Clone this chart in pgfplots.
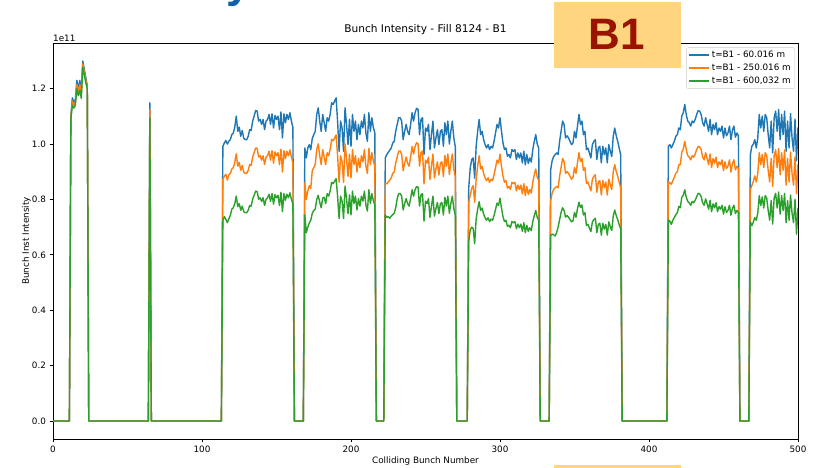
\documentclass[border=0pt]{standalone}
\usepackage{fontspec}
\setmainfont{DejaVu Sans}
\newfontfamily\headfont{Liberation Sans}
\usepackage{pgfplots}
\usepackage{pgfplotstable}
\pgfplotsset{compat=1.18}

\definecolor{tabblue}{HTML}{1F77B4}
\definecolor{taborange}{HTML}{FF7F0E}
\definecolor{tabgreen}{HTML}{2CA02C}
\definecolor{boxfill}{HTML}{FFD580}
\definecolor{boxtext}{HTML}{9A1200}
\definecolor{slideblue}{HTML}{1060AA}

% bunch number, intensity [1e11] at 60.016 m, 250.016 m and 600,032 m
\pgfplotstableread{
n a b c
0 0 0 0
11 0 0 0
12 1.100 1.095 1.090
13 1.167 1.155 1.140
14 1.150 1.140 1.130
15 1.160 1.150 1.140
16 1.230 1.215 1.200
17 1.200 1.190 1.175
18 1.230 1.215 1.195
19 1.195 1.185 1.165
20 1.300 1.290 1.278
21 1.270 1.262 1.250
22 1.240 1.232 1.222
23 1.210 1.205 1.198
24 0 0 0
64 0 0 0
65 1.149 1.125 1.095
66 0 0 0
113 0 0 0
114 0.992 0.873 0.726
115 1.004 0.884 0.738
116 1.013 0.891 0.728
117 1.000 0.870 0.716
118 1.010 0.889 0.730
119 1.016 0.894 0.742
120 1.034 0.910 0.765
121 1.040 0.915 0.770
122 1.061 0.934 0.785
123 1.101 0.965 0.812
124 1.046 0.920 0.774
125 1.061 0.934 0.785
126 1.028 0.905 0.761
127 1.049 0.923 0.776
128 1.022 0.899 0.756
129 1.016 0.894 0.752
130 1.016 0.894 0.752
131 1.028 0.905 0.761
132 1.052 0.926 0.778
133 1.049 0.923 0.776
134 1.083 0.953 0.801
135 1.101 0.969 0.815
136 1.121 0.986 0.830
137 1.119 0.985 0.828
138 1.083 0.953 0.801
139 1.089 0.958 0.806
140 1.071 0.942 0.793
141 1.089 0.958 0.806
142 1.052 0.926 0.778
143 1.083 0.953 0.801
144 1.089 0.958 0.806
145 1.107 0.974 0.819
146 1.071 0.942 0.793
147 1.109 0.976 0.821
148 1.058 0.931 0.783
149 1.104 0.972 0.817
150 1.089 0.958 0.806
151 1.101 0.969 0.815
152 1.052 0.926 0.778
153 1.116 0.982 0.826
154 1.022 0.899 0.756
155 1.109 0.976 0.821
156 1.077 0.948 0.797
157 1.107 0.974 0.819
158 1.089 0.958 0.806
159 1.113 0.979 0.824
160 1.083 0.953 0.801
161 1.060 0.933 0.784
162 0 0 0
168 0 0 0
169 0.986 0.860 0.745
170 0.950 0.800 0.680
171 0.986 0.830 0.700
172 0.998 0.850 0.715
173 0.980 0.840 0.725
174 1.020 0.903 0.750
175 1.034 0.915 0.760
176 1.046 0.926 0.765
177 1.107 0.980 0.800
178 1.131 1.001 0.815
179 1.083 0.958 0.790
180 1.046 0.926 0.770
181 1.107 0.980 0.805
182 1.077 0.953 0.808
183 1.046 0.926 0.785
184 1.095 0.969 0.821
185 1.083 0.958 0.812
186 1.107 0.980 0.830
187 1.149 1.017 0.862
188 1.143 1.012 0.857
189 1.155 1.022 0.866
190 1.167 1.033 0.875
191 1.083 0.958 0.812
192 0.974 0.862 0.731
193 1.083 0.958 0.812
194 1.058 0.936 0.794
195 0.974 0.862 0.731
196 1.131 1.001 0.848
197 1.071 0.948 0.803
198 0.998 0.883 0.749
199 1.089 0.964 0.817
200 0.992 0.878 0.744
201 1.107 0.980 0.830
202 1.046 0.926 0.785
203 1.083 0.958 0.812
204 1.016 0.899 0.762
205 1.071 0.948 0.803
206 1.034 0.915 0.776
207 1.083 0.958 0.812
208 1.058 0.936 0.794
209 1.107 0.980 0.830
210 1.040 0.920 0.780
211 1.010 0.894 0.758
212 1.113 0.985 0.835
213 1.046 0.926 0.785
214 1.095 0.969 0.821
215 1.060 0.938 0.795
216 1.040 0.920 0.780
217 0 0 0
222 0 0 0
223 0.950 0.859 0.744
224 0.962 0.856 0.735
225 0.970 0.863 0.738
226 0.978 0.870 0.732
227 0.986 0.878 0.740
228 1.004 0.894 0.745
229 1.010 0.899 0.750
230 1.046 0.931 0.770
231 1.071 0.953 0.803
232 1.095 0.975 0.821
233 1.095 0.975 0.821
234 1.083 0.964 0.812
235 1.016 0.904 0.762
236 1.046 0.931 0.785
237 1.071 0.953 0.803
238 1.046 0.931 0.785
239 1.034 0.920 0.776
240 1.071 0.953 0.803
241 1.113 0.991 0.835
242 1.083 0.964 0.812
243 1.113 0.991 0.835
244 1.129 1.005 0.847
245 1.125 1.001 0.844
246 1.034 0.920 0.776
247 1.089 0.969 0.817
248 1.095 0.975 0.821
249 0.962 0.856 0.722
250 1.058 0.942 0.794
251 1.046 0.931 0.785
252 1.071 0.953 0.803
253 0.980 0.872 0.735
254 1.034 0.920 0.776
255 1.083 0.964 0.812
256 0.986 0.878 0.740
257 1.022 0.910 0.767
258 1.052 0.936 0.789
259 0.998 0.888 0.749
260 1.046 0.931 0.785
261 1.052 0.936 0.789
262 0.992 0.883 0.744
263 1.077 0.959 0.808
264 1.034 0.920 0.776
265 1.083 0.964 0.812
266 1.000 0.890 0.750
267 1.046 0.931 0.785
268 1.083 0.964 0.812
269 1.022 0.910 0.767
270 0.990 0.881 0.743
271 0 0 0
278 0 0 0
279 0.840 0.790 0.647
280 0.913 0.815 0.690
281 0.944 0.840 0.700
282 0.950 0.850 0.695
283 0.877 0.790 0.640
284 0.992 0.873 0.730
285 1.046 0.920 0.765
286 1.089 0.958 0.792
287 1.034 0.910 0.760
288 1.046 0.920 0.769
289 1.016 0.894 0.747
290 0.998 0.878 0.734
291 0.986 0.868 0.725
292 0.998 0.878 0.734
293 0.980 0.862 0.720
294 0.992 0.873 0.729
295 0.986 0.868 0.725
296 1.010 0.889 0.742
297 1.040 0.915 0.764
298 1.071 0.942 0.787
299 1.058 0.931 0.778
300 1.095 0.964 0.805
301 1.046 0.920 0.769
302 1.004 0.884 0.738
303 0.980 0.862 0.720
304 0.986 0.868 0.725
305 0.956 0.841 0.703
306 0.962 0.847 0.707
307 0.950 0.836 0.698
308 0.980 0.862 0.720
309 0.974 0.857 0.716
310 0.980 0.862 0.720
311 0.944 0.831 0.694
312 0.968 0.852 0.711
313 0.950 0.836 0.698
314 0.968 0.852 0.711
315 0.932 0.820 0.685
316 0.974 0.857 0.716
317 0.925 0.814 0.680
318 0.962 0.847 0.707
319 0.930 0.818 0.684
320 0.950 0.836 0.698
321 0.935 0.823 0.687
322 0.980 0.862 0.720
323 1.010 0.889 0.742
324 1.034 0.910 0.760
325 1.000 0.880 0.735
326 0.986 0.868 0.725
327 0 0 0
333 0 0 0
334 0.907 0.794 0.670
335 0.940 0.823 0.675
336 0.955 0.836 0.672
337 0.962 0.842 0.668
338 0.968 0.847 0.680
339 0.962 0.842 0.700
340 1.010 0.884 0.727
341 1.046 0.915 0.753
342 1.083 0.948 0.770
343 1.071 0.937 0.760
344 1.022 0.894 0.736
345 1.030 0.901 0.742
346 1.022 0.894 0.736
347 1.010 0.884 0.727
348 0.998 0.873 0.719
349 1.004 0.879 0.723
350 1.046 0.915 0.753
351 1.022 0.894 0.736
352 1.065 0.932 0.767
353 1.107 0.969 0.790
354 1.071 0.937 0.771
355 1.083 0.948 0.780
356 1.034 0.905 0.744
357 1.046 0.915 0.753
358 0.980 0.858 0.706
359 0.986 0.863 0.710
360 0.968 0.847 0.697
361 0.950 0.831 0.684
362 0.998 0.873 0.719
363 1.010 0.884 0.727
364 1.016 0.889 0.732
365 0.944 0.826 0.680
366 0.986 0.863 0.710
367 0.992 0.868 0.714
368 0.932 0.816 0.671
369 0.992 0.868 0.714
370 0.962 0.842 0.693
371 0.986 0.863 0.710
372 0.932 0.816 0.671
373 0.998 0.873 0.719
374 0.975 0.853 0.702
375 0.955 0.836 0.688
376 1.028 0.900 0.740
377 1.058 0.926 0.762
378 1.030 0.901 0.742
379 1.010 0.884 0.727
380 0.985 0.862 0.709
381 0.962 0.842 0.693
382 0 0 0
412 0 0 0
413 0.992 0.865 0.726
414 0.998 0.860 0.722
415 0.986 0.855 0.710
416 0.998 0.868 0.725
417 1.010 0.880 0.735
418 1.028 0.895 0.745
419 1.034 0.900 0.752
420 1.058 0.925 0.775
421 1.052 0.925 0.770
422 1.101 0.970 0.808
423 1.113 0.982 0.815
424 1.143 1.010 0.835
425 1.107 0.980 0.808
426 1.083 0.958 0.793
427 1.077 0.953 0.788
428 1.065 0.943 0.779
429 1.083 0.958 0.793
430 1.077 0.953 0.788
431 1.089 0.964 0.797
432 1.107 0.980 0.810
433 1.121 0.992 0.822
434 1.119 0.990 0.820
435 1.107 0.980 0.810
436 1.077 0.953 0.788
437 1.065 0.943 0.779
438 1.095 0.969 0.802
439 1.071 0.948 0.784
440 1.046 0.926 0.765
441 1.089 0.964 0.797
442 1.034 0.915 0.756
443 1.071 0.948 0.784
444 1.052 0.931 0.770
445 1.077 0.953 0.788
446 1.034 0.915 0.756
447 1.058 0.936 0.774
448 1.046 0.926 0.765
449 1.065 0.943 0.779
450 1.022 0.904 0.747
451 1.058 0.936 0.774
452 1.030 0.912 0.753
453 1.040 0.920 0.760
454 1.065 0.943 0.779
455 1.016 0.899 0.743
456 1.050 0.929 0.768
457 1.065 0.943 0.779
458 1.025 0.907 0.749
459 1.040 0.920 0.760
460 1.030 0.912 0.753
461 0 0 0
467 0 0 0
468 0.960 0.835 0.720
469 0.992 0.850 0.705
470 1.000 0.865 0.718
471 1.016 0.885 0.735
472 0.986 0.863 0.725
473 1.022 0.894 0.751
474 1.107 0.969 0.814
475 1.058 0.926 0.778
476 1.101 0.963 0.809
477 1.046 0.915 0.769
478 1.107 0.969 0.814
479 1.095 0.958 0.805
480 1.034 0.905 0.760
481 0.986 0.863 0.725
482 1.083 0.948 0.796
483 0.968 0.847 0.711
484 1.095 0.958 0.805
485 1.119 0.979 0.822
486 1.046 0.915 0.769
487 1.125 0.984 0.827
488 1.016 0.889 0.747
489 1.107 0.969 0.814
490 1.034 0.905 0.760
491 1.119 0.979 0.822
492 0.974 0.852 0.716
493 1.083 0.948 0.796
494 0.986 0.863 0.725
495 1.110 0.971 0.816
496 1.022 0.894 0.751
497 0.974 0.852 0.716
498 1.090 0.954 0.801
499 0.940 0.820 0.675
500 1.060 0.928 0.770
}\intensity

\begin{document}
\begin{tikzpicture}[x=1pt,y=1pt]
  % page frame
  \path[fill=white, use as bounding box] (0,0) rectangle (814,468);

  % descender of the slide heading above the frame
  \begin{scope}
    \clip (0,0) rectangle (814,468);
    \node[anchor=base, inner sep=0pt, text=slideblue,
          font=\headfont\bfseries\fontsize{44}{44}\selectfont] at (239,470.5) {y};
  \end{scope}

  \begin{axis}[
    at={(53pt,29pt)}, anchor=south west,
    width=745pt, height=396pt, scale only axis,
    xmin=0, xmax=500, ymin=-0.065, ymax=1.365,
    xtick={0,100,200,300,400,500},
    ytick={0,0.2,0.4,0.6,0.8,1.0,1.2},
    scaled y ticks=false,
    tick pos=left, tick align=outside,
    major tick length=3.5pt,
    tick style={black, line width=0.8pt},
    axis line style={black, line width=0.8pt},
    /pgf/number format/assume math mode=true,
    ticklabel style={font=\fontsize{8.8}{10}\selectfont},
    yticklabel style={/pgf/number format/fixed,
                      /pgf/number format/fixed zerofill,
                      /pgf/number format/precision=1},
    title={Bunch Intensity - Fill 8124 - B1},
    title style={at={(axis description cs:0.5,1)}, anchor=base,
                 yshift=4.5pt, inner sep=0pt,
                 font=\fontsize{10.6}{12}\selectfont},
    xlabel={Colliding Bunch Number},
    xlabel style={at={(axis description cs:0.5,0)}, anchor=base,
                  yshift=-25pt, inner sep=0pt,
                  font=\fontsize{8.8}{10}\selectfont},
    ylabel={Bunch Inst Intensity},
    ylabel style={at={(axis description cs:-0.0325,0.5)}, anchor=base,
                  inner sep=0pt, font=\fontsize{8.8}{10}\selectfont},
    legend cell align=left,
    legend style={at={(0.996,0.989)}, anchor=north east,
                  draw=black!20, fill=white, fill opacity=0.8,
                  text opacity=1, rounded corners=2pt,
                  font=\fontsize{8.8}{10}\selectfont,
                  inner xsep=2pt, inner ysep=1.5pt, row sep=1pt},
    legend image code/.code={\draw[#1] (0pt,0pt) -- (20pt,0pt);},
    every axis plot/.append style={line width=1.4pt, line join=round},
  ]
    \addplot[color=tabblue] table[x=n, y=a] {\intensity};
    \addlegendentry{{t=B1 - 60.016 m}}
    \addplot[color=taborange] table[x=n, y=b] {\intensity};
    \addlegendentry{{t=B1 - 250.016 m}}
    \addplot[color=tabgreen] table[x=n, y=c] {\intensity};
    \addlegendentry{{t=B1 - 600,032 m}}
  \end{axis}

  % exponent of the y axis
  \node[anchor=base west, inner sep=0pt, font=\fontsize{8.8}{10}\selectfont]
    at (53,426.3) {1e11};

  % beam tag
  \fill[boxfill] (554,400.3) rectangle (680.7,466.3);
  \node[anchor=base, inner sep=0pt, text=boxtext,
        font=\headfont\bfseries\fontsize{44}{44}\selectfont] at (616.5,418) {B1};
  \fill[boxfill] (554,0) rectangle (680.7,2.7);
\end{tikzpicture}
\end{document}
